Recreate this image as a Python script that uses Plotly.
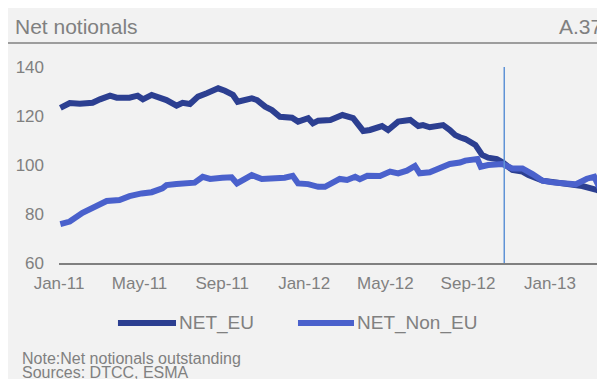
"""Net notionals, EU vs non-EU."""

import plotly.graph_objects as go

# NET_EU series
eu_dates = [
    "2011-01-03", "2011-01-17", "2011-02-01", "2011-02-20", "2011-03-03", "2011-03-18",
    "2011-03-28", "2011-04-16", "2011-04-28", "2011-05-06", "2011-05-19", "2011-05-31",
    "2011-06-10", "2011-06-25", "2011-07-04", "2011-07-15", "2011-07-27", "2011-08-09",
    "2011-08-26", "2011-09-05", "2011-09-17", "2011-09-24", "2011-10-15", "2011-10-23",
    "2011-11-04", "2011-11-14", "2011-11-26", "2011-12-14", "2011-12-23", "2012-01-07",
    "2012-01-14", "2012-01-22", "2012-02-09", "2012-02-27", "2012-03-14", "2012-03-29",
    "2012-04-08", "2012-04-26", "2012-05-05", "2012-05-20", "2012-06-07", "2012-06-19",
    "2012-06-26", "2012-07-06", "2012-07-26", "2012-08-05", "2012-08-13", "2012-08-20",
    "2012-08-28", "2012-09-12", "2012-09-22", "2012-10-01", "2012-10-14", "2012-10-23",
    "2012-11-06", "2012-11-21", "2012-11-30", "2012-12-21", "2013-01-09", "2013-02-03",
    "2013-02-18", "2013-03-10", "2013-03-24",
]
eu_vals = [
    123.3, 125.3, 125.0, 125.4, 126.8, 128.3,
    127.5, 127.5, 128.3, 126.8, 128.6, 127.6,
    126.5, 124.2, 125.4, 124.9, 127.9, 129.3,
    131.3, 130.3, 128.6, 125.8, 127.2, 126.5,
    123.8, 122.4, 119.7, 119.3, 117.7, 119.1,
    117.0, 118.1, 118.4, 120.4, 119.1, 113.9,
    114.3, 115.9, 114.3, 117.7, 118.4, 115.9,
    116.3, 115.4, 116.3, 114.3, 112.2, 111.3,
    110.6, 108.2, 104.1, 103.0, 102.4, 101.0,
    98.0, 97.3, 95.9, 93.6, 92.9, 91.8,
    91.4, 90.0, 88.4,
]

# NET_Non_EU series
non_eu_dates = [
    "2011-01-03", "2011-01-17", "2011-02-05", "2011-02-20", "2011-03-13", "2011-04-01",
    "2011-04-16", "2011-05-04", "2011-05-19", "2011-06-04", "2011-06-10", "2011-06-25",
    "2011-07-12", "2011-07-22", "2011-08-03", "2011-08-14", "2011-09-01", "2011-09-15",
    "2011-09-23", "2011-10-15", "2011-10-30", "2011-11-19", "2011-12-03", "2011-12-15",
    "2011-12-23", "2012-01-07", "2012-01-22", "2012-02-01", "2012-02-09", "2012-02-23",
    "2012-03-05", "2012-03-17", "2012-03-24", "2012-04-04", "2012-04-23", "2012-05-08",
    "2012-05-20", "2012-06-02", "2012-06-14", "2012-06-21", "2012-07-06", "2012-07-21",
    "2012-08-05", "2012-08-20", "2012-08-28", "2012-09-15", "2012-09-20", "2012-10-01",
    "2012-10-22", "2012-11-06", "2012-11-21", "2012-12-06", "2012-12-21", "2013-01-05",
    "2013-01-20", "2013-02-08", "2013-02-25", "2013-03-08", "2013-03-17",
]
non_eu_vals = [
    75.9, 76.9, 80.5, 82.3, 85.3, 85.7,
    87.3, 88.4, 88.9, 90.5, 91.8, 92.2,
    92.8, 92.8, 95.2, 94.3, 94.8, 95.0,
    92.5, 95.9, 94.3, 94.3, 94.8, 95.6,
    92.5, 92.2, 91.1, 91.1, 92.1, 94.3,
    93.9, 95.2, 94.2, 95.6, 95.5, 97.3,
    96.6, 97.7, 99.6, 96.6, 97.0, 98.6,
    100.4, 101.0, 101.8, 102.4, 99.3, 100.0,
    100.4, 98.6, 98.6, 96.3, 93.6, 92.9,
    92.5, 92.1, 94.4, 95.2, 90.0,
]

marker_date = "2012-10-25"
x_range = ["2011-01-01", "2013-03-24"]
y_ticks = [60, 80, 100, 120, 140]

EU_COLOR = "#2c3f91"
NON_EU_COLOR = "#4a61cc"
GREY = "#808080"
BG = "#f2f2f2"
FONT = "Liberation Sans, Arial, sans-serif"

fig = go.Figure()
fig.add_trace(go.Scatter(x=eu_dates, y=eu_vals, mode="lines", name="NET_EU",
                         line=dict(color=EU_COLOR, width=6)))
fig.add_trace(go.Scatter(x=non_eu_dates, y=non_eu_vals, mode="lines", name="NET_Non_EU",
                         line=dict(color=NON_EU_COLOR, width=6)))

fig.add_shape(type="line", x0=marker_date, x1=marker_date, y0=60, y1=140,
              xref="x", yref="y", line=dict(color="#5f93d6", width=1.5))

# header
fig.add_annotation(text="Net notionals", x=-0.085, y=1.209, xref="paper", yref="paper",
                   xanchor="left", yanchor="middle", showarrow=False,
                   font=dict(size=21, color=GREY, family=FONT))
fig.add_annotation(text="A.37", x=0.912, y=1.209, xref="paper", yref="paper",
                   xanchor="left", yanchor="middle", showarrow=False,
                   font=dict(size=21, color=GREY, family=FONT))
fig.add_shape(type="line", x0=-0.0934, x1=1.0, y0=1.1224, y1=1.1224,
              xref="paper", yref="paper", line=dict(color=GREY, width=1.5))

# legend drawn by hand (long keys)
for x0, x1, color, label in [
    (0.108, 0.2143, EU_COLOR, "NET_EU"),
    (0.4377, 0.5403, NON_EU_COLOR, "NET_Non_EU"),
]:
    fig.add_shape(type="line", x0=x0, x1=x1, y0=-0.3061, y1=-0.3061,
                  xref="paper", yref="paper", line=dict(color=color, width=6))
    fig.add_annotation(text=label, x=x1 + 0.002, y=-0.3061, xref="paper", yref="paper",
                       xanchor="left", yanchor="middle", showarrow=False,
                       font=dict(size=19, color=GREY, family=FONT))

# footnotes
fig.add_annotation(text="Note:Net notionals outstanding", x=-0.0714, y=-0.4847,
                   xref="paper", yref="paper", xanchor="left", yanchor="middle",
                   showarrow=False, font=dict(size=16, color=GREY, family=FONT))
fig.add_annotation(text="Sources: DTCC, ESMA", x=-0.0714, y=-0.5612,
                   xref="paper", yref="paper", xanchor="left", yanchor="middle",
                   showarrow=False, font=dict(size=16, color=GREY, family=FONT))

fig.update_xaxes(range=x_range, tick0="2011-01-01", dtick="M4", tickformat="%b-%y",
                 showgrid=False, zeroline=False, showline=True, linecolor=GREY, linewidth=2,
                 ticks="", ticklabelstandoff=4,
                 tickfont=dict(size=17, color=GREY, family=FONT))
fig.update_yaxes(range=[60, 140], tickvals=y_ticks, showgrid=False, zeroline=False,
                 showline=False, ticks="", ticklabelstandoff=14,
                 tickfont=dict(size=17, color=GREY, family=FONT))

fig.update_layout(
    width=597, height=371,
    margin=dict(l=51, r=0, t=59, b=116),
    paper_bgcolor=BG, plot_bgcolor=BG,
    showlegend=False,
)

fig.write_html("out.html")
